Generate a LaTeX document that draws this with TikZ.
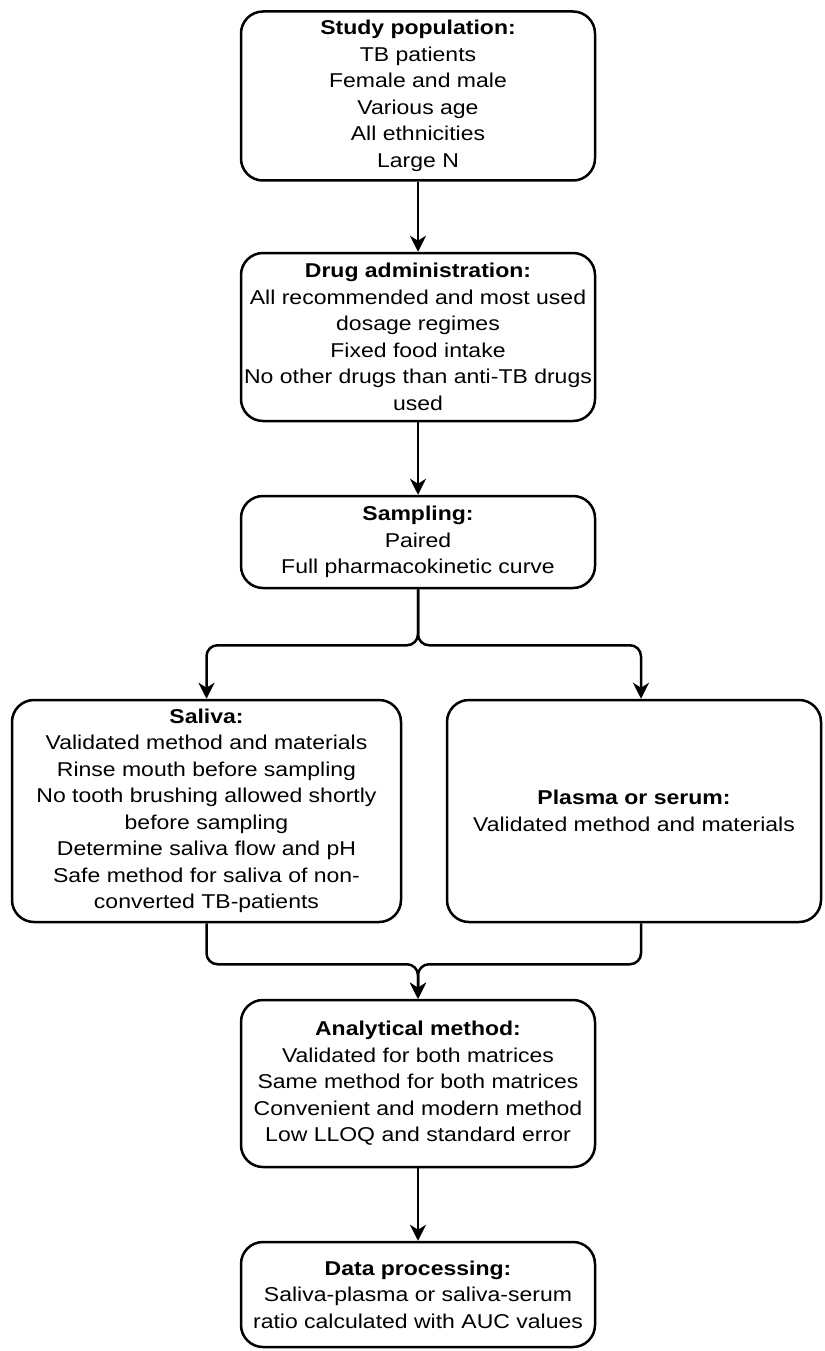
\documentclass[tikz,border=0pt]{standalone}
\usepackage{fontspec}
\setmainfont[FakeStretch=1.15]{Liberation Sans}
\usetikzlibrary{arrows.meta}
\begin{document}
\begin{tikzpicture}[x=1pt,y=-1pt,
  box/.style={draw, line width=2.5pt, rounded corners=22pt, align=center, inner sep=0pt,
    font=\fontsize{20}{26.5}\selectfont},
  conn/.style={line width=2.5pt, rounded corners=11pt,
    -{Stealth[length=16pt,width=16pt,inset=5pt]}}]
\useasboundingbox (0,0) rectangle (824,1351);
\node[box, minimum width=354pt, minimum height=169pt] (pop) at (418,96)
  {\textbf{Study population:}\\TB patients\\Female and male\\Various age\\All ethnicities\\Large N};
\node[box, minimum width=354pt, minimum height=168pt] (drug) at (418,337)
  {\textbf{Drug administration:}\\All recommended and most used\\dosage regimes\\Fixed food intake\\No other drugs than anti-TB drugs\\used};
\node[box, minimum width=354pt, minimum height=92pt] (samp) at (418,542)
  {\textbf{Sampling:}\\Paired\\Full pharmacokinetic curve};
\node[box, minimum width=389pt, minimum height=222pt] (sal) at (206.5,811)
  {\textbf{Saliva:}\\Validated method and materials\\Rinse mouth before sampling\\No tooth brushing allowed shortly\\before sampling\\Determine saliva flow and pH\\Safe method for saliva of non-\\converted TB-patients};
\node[box, minimum width=374pt, minimum height=222pt] (pla) at (634,811)
  {\textbf{Plasma or serum:}\\Validated method and materials};
\node[box, minimum width=354pt, minimum height=167pt] (ana) at (418,1083.5)
  {\textbf{Analytical method:}\\Validated for both matrices\\Same method for both matrices\\Convenient and modern method\\Low LLOQ and standard error};
\node[box, minimum width=354pt, minimum height=105pt] (dat) at (418,1294.5)
  {\textbf{Data processing:}\\Saliva-plasma or saliva-serum\\ratio calculated with AUC values};
\coordinate (pin) at (641,698.75);
\coordinate (pout) at (641,923.25);
\draw[conn] (pop) -- (drug);
\draw[conn] (drug) -- (samp);
\draw[conn] (samp.south) -- ++(0,56) -| (sal.north);
\draw[conn] (samp.south) -- ++(0,56) -| (pin);
\draw[conn] (sal.south) -- ++(0,41) -| (ana.north);
\draw[conn] (pout) -- ++(0,41) -| (ana.north);
\draw[conn] (ana) -- (dat);
\end{tikzpicture}
\end{document}
